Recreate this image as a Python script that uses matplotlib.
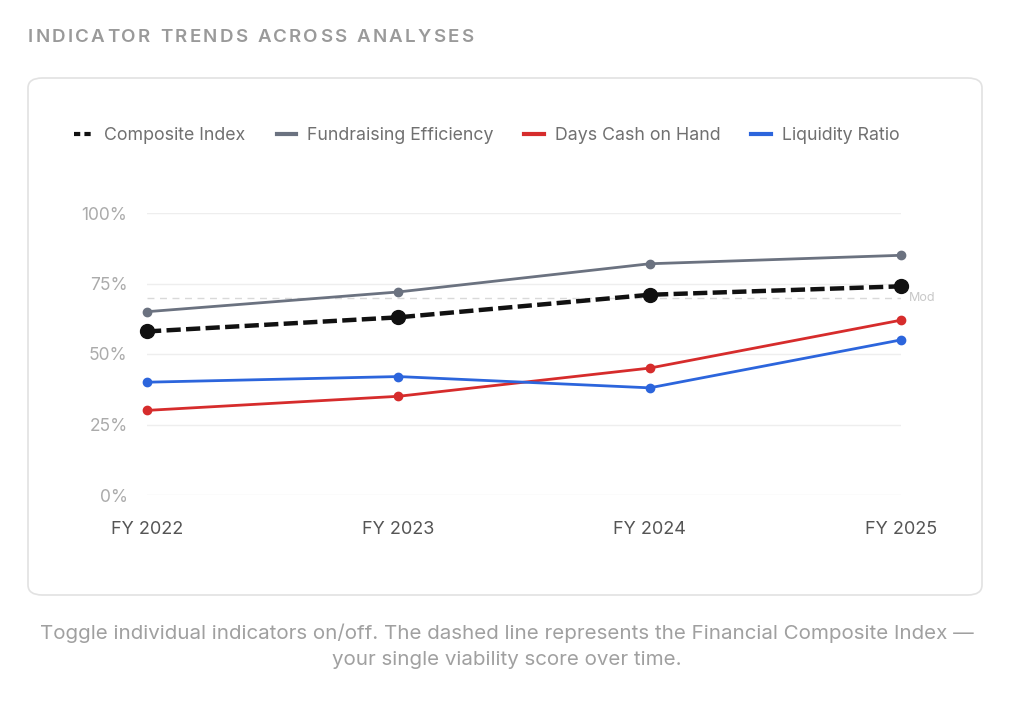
import matplotlib.pyplot as plt
from matplotlib.patches import FancyBboxPatch
from matplotlib.lines import Line2D

plt.rcParams['font.family'] = ['Inter', 'DejaVu Sans']

W, H = 1024, 716

years = ["FY 2022", "FY 2023", "FY 2024", "FY 2025"]
composite = [58, 63, 71, 74]
fundraising = [65, 72, 82, 85]
days_cash = [30, 35, 45, 62]
liquidity = [40, 42, 38, 55]
threshold = 70
threshold_label = "Mod"
yticks = [0, 25, 50, 75, 100]

title = "INDICATOR TRENDS ACROSS ANALYSES"
caption = ("Toggle individual indicators on/off. The dashed line represents the Financial Composite Index \u2014\n"
           "your single viability score over time.")


def fx(px):
	return px / W


def fy(py):
	return 1 - py / H


fig = plt.figure(figsize=(W / 100, H / 100), dpi=100)
fig.patch.set_facecolor('white')

# card
card = FancyBboxPatch((fx(28), fy(595)), fx(982) - fx(28), fy(78) - fy(595),
	boxstyle="round,pad=0,rounding_size=0.014", transform=fig.transFigure,
	facecolor='white', edgecolor='#e2e2e2', linewidth=1.2, zorder=-5)
fig.patches.append(card)

# title with letter spacing
renderer = fig.canvas.get_renderer()
x = fx(28)
for ch in title:
	t = fig.text(x, fy(37), ch, fontsize=13.5, fontweight='semibold', color='#9a9a9a', va='center', ha='left')
	w = t.get_window_extent(renderer).width if ch != ' ' else 5.5
	x += (w + 2.2) / W

ax = fig.add_axes([fx(147), fy(495), fx(901) - fx(147), fy(213) - fy(495)])
ax.patch.set_alpha(0)
xs = list(range(len(years)))

ax.axhline(threshold, color='#d9d9d9', lw=1, ls=(0, (5, 4)), zorder=1)
ax.text(1.01, threshold, threshold_label, transform=ax.get_yaxis_transform(), color='#c8c8c8',
	fontsize=9, va='center', ha='left')

ax.plot(xs, fundraising, color='#6b7280', lw=2, marker='o', ms=6, clip_on=False, zorder=3)
ax.plot(xs, days_cash, color='#d62c2c', lw=2, marker='o', ms=6, clip_on=False, zorder=3)
ax.plot(xs, liquidity, color='#2c65dc', lw=2, marker='o', ms=6, clip_on=False, zorder=3)
ax.plot(xs, composite, color='#111111', lw=3.2, ls=(0, (3.2, 1.2)), marker='o', ms=10,
	clip_on=False, zorder=4)

ax.set_xlim(0, len(years) - 1)
ax.set_ylim(0, 100)
ax.set_yticks(yticks)
ax.set_yticklabels([f"{v}%" for v in yticks])
ax.set_xticks(xs)
ax.set_xticklabels(years)
ax.grid(axis='y', color='#eeeeee', lw=1)
ax.set_axisbelow(True)
for s in ax.spines.values():
	s.set_visible(False)
ax.tick_params(axis='both', length=0)
ax.tick_params(axis='y', labelcolor='#ababab', labelsize=12.5, pad=14)
ax.tick_params(axis='x', labelcolor='#555555', labelsize=13, pad=19)

handles = [
	Line2D([], [], color='#111111', lw=3, ls=(0, (1.5, 1))),
	Line2D([], [], color='#6b7280', lw=3),
	Line2D([], [], color='#d62c2c', lw=3),
	Line2D([], [], color='#2c65dc', lw=3),
]
labels = ["Composite Index", "Fundraising Efficiency", "Days Cash on Hand", "Liquidity Ratio"]
fig.legend(handles, labels, loc='center left', bbox_to_anchor=(fx(58), fy(136)), ncol=4,
	frameon=False, fontsize=12.8, labelcolor='#707070', handlelength=1.1, handletextpad=0.6,
	columnspacing=1.75)

fig.text(0.495, fy(646), caption, ha='center', va='center', fontsize=14.8, color='#a0a0a0',
	linespacing=1.6)

fig.savefig('out.png', dpi=100, facecolor='white')
